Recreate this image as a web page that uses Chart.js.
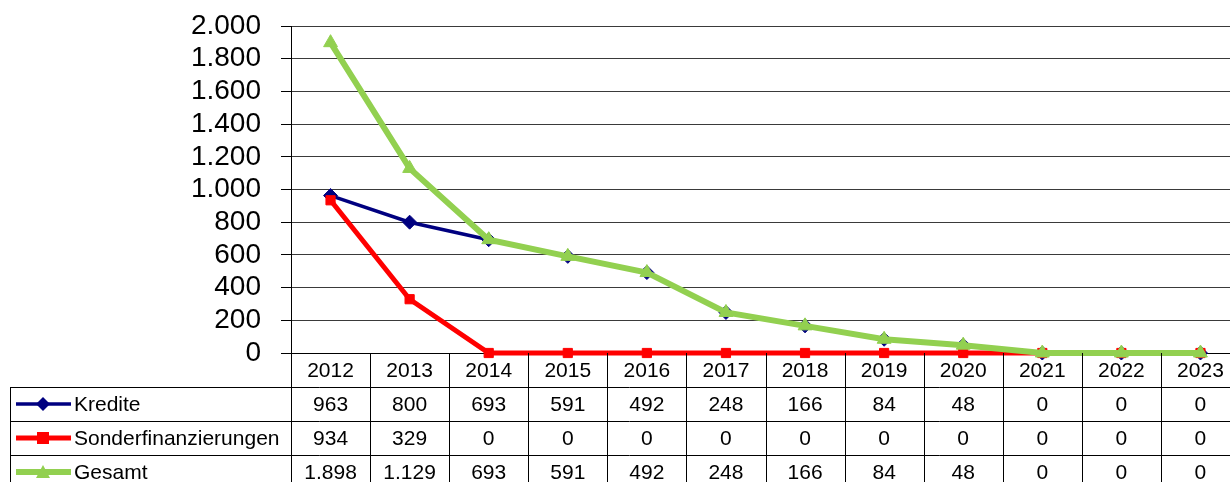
<!DOCTYPE html>
<html>
<head>
<meta charset="utf-8">
<script src="https://cdn.jsdelivr.net/npm/chart.js@4"></script>
<style>
html,body{margin:0;padding:0;background:#fff;overflow:hidden;}
#wrap{width:1230px;height:482px;overflow:hidden;position:relative;}
#inner{width:1249px;height:482px;position:absolute;left:0;top:0;}
canvas{display:block;}
</style>
</head>
<body>
<div id="wrap"><div id="inner"><canvas id="c" width="1249" height="482" style="width:1249px;height:482px"></canvas></div></div>
<script>
const categories = ['2012','2013','2014','2015','2016','2017','2018','2019','2020','2021','2022','2023'];
const kredite = [963, 800, 693, 591, 492, 248, 166, 84, 48, 0, 0, 0];
const sonderfinanzierungen = [934, 329, 0, 0, 0, 0, 0, 0, 0, 0, 0, 0];
const gesamt = [1898, 1129, 693, 591, 492, 248, 166, 84, 48, 0, 0, 0];
const seriesNames = ['Kredite', 'Sonderfinanzierungen', 'Gesamt'];
const seriesColors = ['#000080', '#FF0000', '#92D050'];
const seriesMarkers = ['rectRot', 'rect', 'triangle'];
const yMin = 0, yMax = 2000, yStep = 200;

function fmtDE(v){
  const s = String(Math.round(Math.abs(v)));
  const out = s.replace(/\B(?=(\d{3})+(?!\d))/g, '.');
  return (v < 0 ? '-' : '') + out;
}

const FONT = '"Liberation Sans", Arial, sans-serif';
const lineWidths = [3.5, 5, 6];
const radii = [7, 6.5, 8];
const orders = [2, 1, 0];

const tablePlugin = {
  id: 'dataTable',
  afterDraw(chart){
    const ctx = chart.ctx;
    const x = chart.scales.x;
    const area = chart.chartArea;
    const n = categories.length;
    const colW = (area.right - area.left) / n;
    const top = area.bottom;
    const rowH = 34;
    const rows = [top, top + rowH, top + 2*rowH, top + 3*rowH, top + 4*rowH];
    const legLeft = 10;
    ctx.save();
    ctx.strokeStyle = '#000';
    ctx.lineWidth = 1;
    for (let r = 1; r < rows.length; r++){
      const y = Math.round(rows[r]) + 0.5;
      ctx.beginPath(); ctx.moveTo(legLeft, y); ctx.lineTo(chart.width, y); ctx.stroke();
    }
    for (let i = 0; i <= n; i++){
      const xx = Math.round(area.left + i*colW) + 0.5;
      ctx.beginPath(); ctx.moveTo(xx, top); ctx.lineTo(xx, chart.height); ctx.stroke();
    }
    ctx.beginPath(); ctx.moveTo(legLeft + 0.5, rows[1]); ctx.lineTo(legLeft + 0.5, chart.height); ctx.stroke();

    ctx.fillStyle = '#000';
    ctx.font = '21px ' + FONT;
    ctx.textAlign = 'center';
    ctx.textBaseline = 'middle';
    categories.forEach((c, i) => {
      ctx.fillText(c, x.getPixelForValue(i), (rows[0] + rows[1]) / 2 + 1);
    });
    const data = [kredite, sonderfinanzierungen, gesamt];
    data.forEach((arr, s) => {
      const cy = (rows[s+1] + rows[s+2]) / 2 + 1;
      arr.forEach((v, i) => {
        ctx.fillStyle = '#000';
        ctx.textAlign = 'center';
        ctx.fillText(fmtDE(v), x.getPixelForValue(i), cy);
      });
      const ly = cy - 1;
      ctx.strokeStyle = seriesColors[s];
      ctx.lineWidth = lineWidths[s];
      ctx.beginPath(); ctx.moveTo(16, ly); ctx.lineTo(71, ly); ctx.stroke();
      ctx.fillStyle = seriesColors[s];
      ctx.beginPath();
      if (s === 0){
        ctx.moveTo(43, ly-7); ctx.lineTo(50, ly); ctx.lineTo(43, ly+7); ctx.lineTo(36, ly); ctx.closePath();
      } else if (s === 1){
        ctx.rect(37, ly-6, 12, 12);
      } else {
        ctx.moveTo(43, ly-7); ctx.lineTo(50, ly+6); ctx.lineTo(36, ly+6); ctx.closePath();
      }
      ctx.fill();
      ctx.fillStyle = '#000';
      ctx.textAlign = 'left';
      ctx.fillText(seriesNames[s], 74, cy);
    });
    ctx.restore();
  }
};

const seriesData = [kredite, sonderfinanzierungen, gesamt];

new Chart(document.getElementById('c'), {
  type: 'line',
  data: {
    labels: categories,
    datasets: seriesData.map((d, s) => ({
      label: seriesNames[s],
      data: d,
      borderColor: seriesColors[s],
      backgroundColor: seriesColors[s],
      borderWidth: lineWidths[s],
      pointStyle: seriesMarkers[s],
      pointRadius: radii[s],
      pointBorderWidth: 1,
      pointBorderColor: seriesColors[s],
      pointBackgroundColor: seriesColors[s],
      tension: 0,
      order: orders[s],
      clip: false
    }))
  },
  options: {
    responsive: false,
    animation: false,
    events: [],
    layout: { padding: { top: 26, right: 0, left: 0, bottom: 0 } },
    plugins: { legend: { display: false }, tooltip: { enabled: false } },
    scales: {
      x: {
        offset: true,
        grid: { display: false, drawTicks: false },
        ticks: { display: false },
        border: { display: true, color: '#000', width: 1 },
        afterFit(s){ s.height = 129; s.paddingLeft = 0; s.paddingRight = 0; }
      },
      y: {
        min: yMin, max: yMax,
        ticks: {
          stepSize: yStep,
          autoSkip: false,
          padding: 20,
          color: '#000',
          font: { family: FONT, size: 28 },
          callback: (v) => fmtDE(v)
        },
        grid: { color: '#3a3a3a', lineWidth: 1, tickLength: 10, tickColor: '#000' },
        border: { display: true, color: '#000', width: 1 },
        afterFit(s){ s.width = 291; s.paddingTop = 0; s.paddingBottom = 0; }
      }
    }
  },
  plugins: [tablePlugin]
});
</script>
</body>
</html>
